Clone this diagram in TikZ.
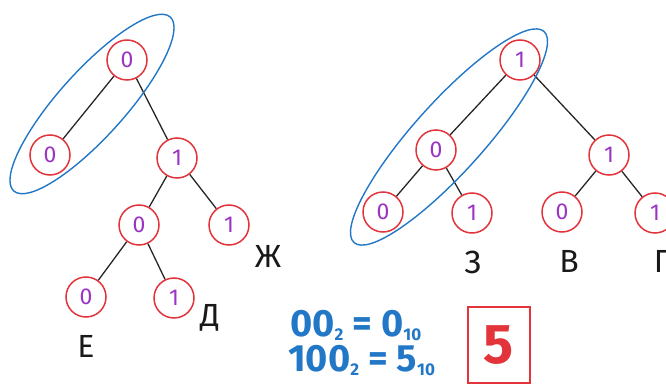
\documentclass[tikz,border=0pt]{standalone}
\usepackage{fontspec}
\setmainfont{Fira Sans}
\definecolor{cred}{HTML}{E2343A}
\definecolor{cpurple}{HTML}{9A34C4}
\definecolor{cblue}{HTML}{2277C6}
\newcommand{\mysub}[1]{\raisebox{-4pt}{\fontsize{17}{17}\selectfont #1}}
\begin{document}
\begin{tikzpicture}[x=1pt,y=-1pt,
  nd/.style={circle,draw=cred,line width=1.5pt,minimum size=40pt,inner sep=0pt,
    text=cpurple,font=\fontsize{23}{23}\selectfont},
  ed/.style={draw=black!85,line width=1.3pt},
  lbl/.style={font=\fontsize{32}{32}\selectfont,text=black!90},
  grp/.style={draw=cblue,line width=1.4pt},
  eq/.style={anchor=base west,text=cblue,font=\fontsize{38}{38}\selectfont\bfseries,inner sep=0pt}]
\useasboundingbox (0,0) rectangle (666,387);
% left tree
\node[nd] (a) at (127,60) {0};
\node[nd] (b) at (50,155) {0};
\node[nd] (c) at (177,158) {1};
\node[nd] (d) at (139,225) {0};
\node[nd] (e) at (229,225) {1};
\node[nd] (f) at (86,297) {0};
\node[nd] (g) at (174,298) {1};
\draw[ed] (a) -- (b);
\draw[ed] (a) -- (c);
\draw[ed] (c) -- (d);
\draw[ed] (c) -- (e);
\draw[ed] (d) -- (f);
\draw[ed] (d) -- (g);
\node[lbl] (lzh) at (268,256) {Ж};
\node[lbl] (ld) at (210,318) {Д};
\node[lbl] (le) at (86,346) {Е};
\draw[grp] (92,104) ellipse[x radius=117pt,y radius=33pt,rotate=48];
% right tree
\node[nd] (p) at (520,60) {1};
\node[nd] (q) at (436,150) {0};
\node[nd] (r) at (609,155) {1};
\node[nd] (s) at (383,212) {0};
\node[nd] (t) at (472,213) {1};
\node[nd] (u) at (562,212) {0};
\node[nd] (v) at (655,213) {1};
\draw[ed] (p) -- (q);
\draw[ed] (p) -- (r);
\draw[ed] (q) -- (s);
\draw[ed] (q) -- (t);
\draw[ed] (r) -- (u);
\draw[ed] (r) -- (v);
\node[lbl] (lz) at (473,262) {З};
\node[lbl] (lv) at (569,261) {В};
\node[lbl] (lg) at (662,261) {Г};
\draw[grp] (449,137) ellipse[x radius=142pt,y radius=35pt,rotate=48];
% equations
\node[eq] (eq1) at (290,336) {00\mysub{2} = 0\mysub{10}};
\node[eq] (eq2) at (288,371) {100\mysub{2} = 5\mysub{10}};
\node[draw=cred,line width=1.4pt,minimum width=62pt,minimum height=76pt,inner sep=0pt,
  text=cred,font=\fontsize{56}{56}\selectfont\bfseries] (ans) at (499,345) {5};
\end{tikzpicture}
\end{document}
